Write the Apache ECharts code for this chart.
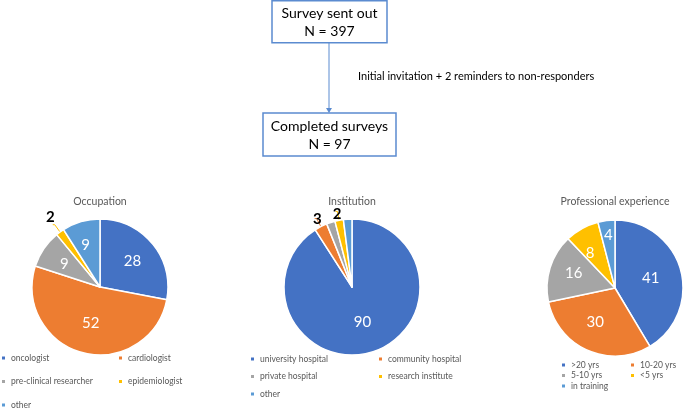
<!DOCTYPE html>
<html><head><meta charset="utf-8">
<script src="https://cdn.jsdelivr.net/npm/echarts@6/dist/echarts.min.js"></script>
<style>html,body{margin:0;padding:0;background:#fff}#c{width:685px;height:409px}</style>
</head><body><div id="c"></div>
<script>
const colors = ['#4472C4', '#ED7D31', '#A5A5A5', '#FFC000', '#5B9BD5'];
const occupationNames = ['oncologist', 'cardiologist', 'pre-clinical researcher', 'epidemiologist', 'other'];
const occupationValues = [28, 52, 9, 2, 9];
const institutionNames = ['university hospital', 'community hospital', 'private hospital', 'research institute', 'other '];
const institutionValues = [90, 3, 2, 2, 2];
const experienceNames = ['>20 yrs', '10-20 yrs', '5-10 yrs', '<5 yrs', 'in training'];
const experienceValues = [41, 30, 16, 8, 4];
const flowTop = ['Survey sent out', 'N = 397'];
const flowBottom = ['Completed surveys', 'N = 97'];
const flowNote = 'Initial invitation + 2 reminders to non-responders';
const pieTitles = ['Occupation', 'Institution', 'Professional experience'];

const FONT = 'Lato';
const GRAY = '#595959';

function pieData(names, values, outsideIdx, hideIdx) {
  return names.map((n, i) => {
    const d = { name: n, value: values[i], itemStyle: { color: colors[i] } };
    if (outsideIdx.includes(i)) {
      d.label = { position: 'outside', color: '#000', fontWeight: 'bold', fontSize: 15, distanceToLabelLine: 1 };
      d.labelLine = { show: true, length: 9, length2: 2, lineStyle: { width: 1 } };
    } else if (hideIdx.includes(i)) {
      d.label = { show: false };
      d.labelLine = { show: false };
    }
    return d;
  });
}

// label nudges (seriesIndex-dataIndex -> [dx, dy]) to mimic the original's label placement
const labelNudge = {
  '0-0': [4, -2], '0-2': [-5, -2], '0-3': [3, -8], '0-4': [-4, -6],
  '1-1': [8, 1], '1-3': [7, 3],
  '2-1': [-5, 0], '2-2': [-6, -4], '2-3': [-7, -3], '2-4': [-2, -16]
};

function pieSeries(center, data) {
  return {
    type: 'pie', radius: 68, center: center, startAngle: 90, clockwise: true,
    avoidLabelOverlap: false, animation: false,
    itemStyle: { borderColor: '#fff', borderWidth: 1.5 },
    label: { show: true, position: 'inside', formatter: '{c}', color: '#fff', fontSize: 15, fontFamily: FONT },
    labelLine: { show: false },
    labelLayout: function (p) {
      const n = labelNudge[p.seriesIndex + '-' + p.dataIndex];
      return n ? { dx: n[0], dy: n[1] } : {};
    },
    emphasis: { disabled: true },
    data: data
  };
}

function legendCol(left, top, gap, names) {
  return {
    orient: 'vertical', left: left, top: top, itemGap: gap, itemWidth: 5, itemHeight: 5,
    icon: 'rect', padding: 0, selectedMode: false, data: names,
    textStyle: { fontSize: 8.5, fontFamily: FONT, color: GRAY, lineHeight: 10 }
  };
}

function titleAt(text, x) {
  return { text: text, left: x, top: 196, textAlign: 'center', padding: 0,
    textStyle: { fontSize: 10.5, fontWeight: 'normal', color: GRAY, fontFamily: FONT } };
}

const chart = echarts.init(document.getElementById('c'));
chart.setOption({
  animation: false,
  title: [titleAt(pieTitles[0], 100), titleAt(pieTitles[1], 352), titleAt(pieTitles[2], 615)],
  legend: [
    legendCol(0, 353, 13.5, [occupationNames[0], occupationNames[2]]),
    legendCol(0, 400, 0, [occupationNames[4]]),
    legendCol(117, 353, 13.5, [occupationNames[1], occupationNames[3]]),
    legendCol(249, 354, 7.5, [institutionNames[0], institutionNames[2], institutionNames[4]]),
    legendCol(377, 354, 7.5, [institutionNames[1], institutionNames[3]]),
    legendCol(560, 360, 0.5, [experienceNames[0], experienceNames[2], experienceNames[4]]),
    legendCol(629, 360, 0.5, [experienceNames[1], experienceNames[3]])
  ],
  series: [
    pieSeries([100, 287], pieData(occupationNames, occupationValues, [3], [])),
    pieSeries([352, 287], pieData(institutionNames, institutionValues, [1, 3], [2, 4])),
    pieSeries([615, 288], pieData(experienceNames, experienceValues, [], []))
  ],
  graphic: [
    { type: 'rect', shape: { x: 272, y: 0.75, width: 115, height: 42 }, style: { fill: '#fff', stroke: '#5B8BD0', lineWidth: 1.5 } },
    { type: 'text', x: 329.5, y: 13, style: { text: flowTop[0], fontSize: 14, fontFamily: FONT, fill: '#000', align: 'center', verticalAlign: 'middle' } },
    { type: 'text', x: 329.5, y: 31, style: { text: flowTop[1], fontSize: 14, fontFamily: FONT, fill: '#000', align: 'center', verticalAlign: 'middle' } },
    { type: 'line', shape: { x1: 329, y1: 43, x2: 329, y2: 109 }, style: { stroke: '#5B8BD0', lineWidth: 1 } },
    { type: 'polygon', shape: { points: [[326, 108], [332, 108], [329, 113]] }, style: { fill: '#5B8BD0' } },
    { type: 'text', x: 358, y: 76, style: { text: flowNote, fontSize: 11, fontFamily: FONT, fill: '#000', align: 'left', verticalAlign: 'middle' } },
    { type: 'rect', shape: { x: 263, y: 113, width: 133, height: 43 }, style: { fill: '#fff', stroke: '#5B8BD0', lineWidth: 1.5 } },
    { type: 'text', x: 329.5, y: 126, style: { text: flowBottom[0], fontSize: 14, fontFamily: FONT, fill: '#000', align: 'center', verticalAlign: 'middle' } },
    { type: 'text', x: 329.5, y: 144, style: { text: flowBottom[1], fontSize: 14, fontFamily: FONT, fill: '#000', align: 'center', verticalAlign: 'middle' } }
  ]
});
</script></body></html>
